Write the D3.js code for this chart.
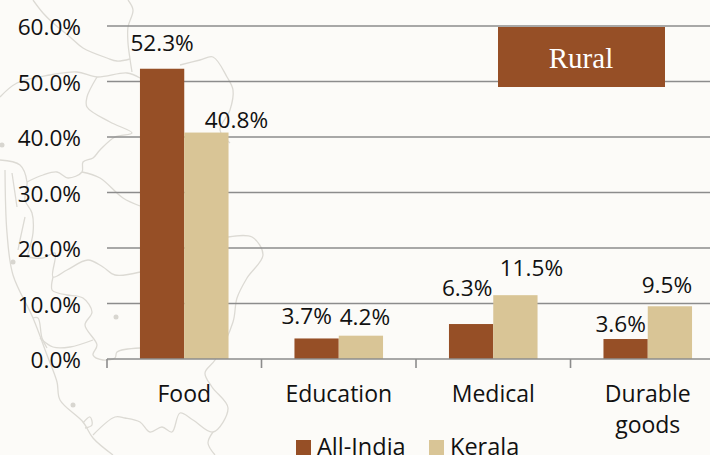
<!DOCTYPE html>
<html>

<head>
    <title>Rural</title>
    <meta charset="UTF-8" />
    <script src="https://d3js.org/d3.v7.min.js"></script>
    <style>
        html, body {
            margin: 0;
            padding: 0;
            background: #fcfbf8;
            overflow: hidden;
        }

        text {
            font-family: "Open Sans", "DejaVu Sans", sans-serif;
            fill: #111;
        }
    </style>
</head>

<body>
    <svg id="chart"></svg>

    <script>
        const categories = ["Food", "Education", "Medical", "Durable goods"];
        const seriesNames = ["All-India", "Kerala"];
        const allIndia = [52.3, 3.7, 6.3, 3.6];
        const kerala = [40.8, 4.2, 11.5, 9.5];
        const yTicks = [0, 10, 20, 30, 40, 50, 60];

        const colors = ["#964f26", "#d9c596"];

        // the labels are not centred over the bars in the original, hand placed
        const labelNudge = [
            [[0, 18], [30, 5]],
            [[-10, 14], [4, 11]],
            [[-4, 28], [16, 19]],
            [[-5, 7], [-3, 13]]
        ];

        // faded map behind the chart, just decoration
        const mapOutlines = [
            [[33, 0], [43, 13], [53, 23], [70, 37], [83, 48], [107, 58], [117, 61], [130, 59]],
            [[128, 0], [133, 10], [128, 27], [128, 43], [130, 59], [132, 72]],
            [[0, 97], [17, 83], [50, 75], [77, 72], [97, 77], [127, 73], [140, 78]],
            [[97, 77], [87, 97], [87, 107], [110, 122], [132, 133], [115, 137], [100, 150], [93, 158], [83, 162], [82, 172], [68, 178], [57, 172], [43, 175], [27, 182]],
            [[82, 172], [100, 178], [123, 198], [140, 206]],
            [[0, 160], [20, 165], [27, 182], [25, 200], [32, 213], [33, 233], [27, 257]],
            [[25, 217], [20, 240], [18, 250]],
            [[12, 173], [17, 207]],
            [[5, 170], [7, 233], [13, 275], [33, 318], [47, 355], [57, 382], [60, 400], [83, 422], [93, 438], [113, 455]],
            [[33, 318], [38, 318], [42, 338], [47, 348]],
            [[27, 257], [43, 258], [55, 253], [53, 277], [67, 270], [88, 260], [103, 267], [115, 275], [140, 272]],
            [[53, 277], [52, 290], [58, 293], [67, 295], [83, 298], [92, 312], [85, 325], [97, 345], [93, 355], [103, 360], [115, 358], [117, 352], [140, 348]],
            [[40, 338], [53, 347], [70, 347], [93, 340]],
            [[83, 423], [90, 417], [92, 425], [85, 428]],
            [[93, 435], [115, 417], [125, 418], [140, 422], [150, 432], [162, 427], [172, 432], [180, 413], [193, 420], [213, 432], [228, 408], [212, 387], [205, 373], [215, 360], [233, 322], [237, 298], [247, 278], [263, 255], [252, 237], [228, 237]],
            [[213, 432], [208, 443], [215, 455]],
            [[180, 65], [200, 60], [213, 57], [227, 77], [233, 90], [230, 110], [220, 130], [230, 143]]
        ];
        const mapDots = [[13, 262], [116, 317], [73, 405], [2, 145]];

        const width = 710,
            height = 455;

        const svg = d3.select("#chart")
            .attr("width", width)
            .attr("height", height)
            .style("display", "block");

        const x = d3.scaleBand()
            .domain(categories)
            .range([107, 725])
            .paddingInner(0.4267)
            .paddingOuter(0.2133);

        const xSeries = d3.scaleBand()
            .domain(seriesNames)
            .range([0, x.bandwidth()]);

        const y = d3.scaleLinear()
            .domain([0, 60])
            .range([359, 26]);

        // background map
        const mapLine = d3.line().curve(d3.curveCatmullRom);

        svg.append("g")
            .selectAll("path")
            .data(mapOutlines)
            .join("path")
            .attr("d", mapLine)
            .attr("fill", "none")
            .attr("stroke", "#dcdad4")
            .attr("stroke-width", 1.3);

        svg.append("g")
            .selectAll("circle")
            .data(mapDots)
            .join("circle")
            .attr("cx", d => d[0])
            .attr("cy", d => d[1])
            .attr("r", 2.5)
            .attr("fill", "#d8d6d0");

        // grid
        svg.append("g")
            .selectAll("line")
            .data(yTicks.filter(d => d > 0))
            .join("line")
            .attr("x1", 107)
            .attr("x2", width)
            .attr("y1", d => y(d))
            .attr("y2", d => y(d))
            .attr("stroke", "#8c8c8c")
            .attr("stroke-width", 1.6);

        // y labels
        const yAxis = svg.append("g")
            .attr("transform", "translate(81,0)")
            .call(d3.axisLeft(y).tickValues(yTicks).tickSize(0).tickPadding(0).tickFormat(d => d.toFixed(1) + "%"));
        yAxis.select(".domain").remove();
        yAxis.selectAll("text")
            .style("font-size", "22.6px")
            .attr("dy", "0.38em");

        // bars
        const groups = svg.append("g")
            .selectAll("g")
            .data(categories)
            .join("g")
            .attr("transform", d => "translate(" + x(d) + ",0)");

        const rows = (d, i) => [
            { name: seriesNames[0], value: allIndia[i], nudge: labelNudge[i][0] },
            { name: seriesNames[1], value: kerala[i], nudge: labelNudge[i][1] }
        ];

        groups.selectAll("rect")
            .data(rows)
            .join("rect")
            .attr("x", d => xSeries(d.name))
            .attr("y", d => y(d.value))
            .attr("width", xSeries.bandwidth())
            .attr("height", d => y(0) - y(d.value))
            .attr("fill", (d, i) => colors[i]);

        groups.selectAll("text")
            .data(rows)
            .join("text")
            .attr("x", d => xSeries(d.name) + xSeries.bandwidth() / 2 + d.nudge[0])
            .attr("y", d => y(d.value) - d.nudge[1])
            .attr("text-anchor", "middle")
            .style("font-size", "22.6px")
            .text(d => d.value.toFixed(1) + "%");

        // x axis
        svg.append("line")
            .attr("x1", 107)
            .attr("x2", width)
            .attr("y1", y(0))
            .attr("y2", y(0))
            .attr("stroke", "#8c8c8c")
            .attr("stroke-width", 1.6);

        svg.append("g")
            .selectAll("line")
            .data(categories)
            .join("line")
            .attr("x1", d => x(d) - x.step() * x.paddingOuter())
            .attr("x2", d => x(d) - x.step() * x.paddingOuter())
            .attr("y1", y(0))
            .attr("y2", 368)
            .attr("stroke", "#8c8c8c")
            .attr("stroke-width", 1.6);

        // category labels, wrapped on the space when it does not fit
        svg.append("g")
            .selectAll("text")
            .data(categories)
            .join("text")
            .attr("text-anchor", "middle")
            .attr("y", 402)
            .style("font-size", "23px")
            .each(function (d) {
                const cx = x(d) + x.bandwidth() / 2;
                d3.select(this).selectAll("tspan")
                    .data(d === "Durable goods" ? d.split(" ") : [d])
                    .join("tspan")
                    .attr("x", cx)
                    .attr("dy", (t, i) => i ? 31 : 0)
                    .text(t => t);
            });

        // legend
        const legend = svg.append("g")
            .selectAll("g")
            .data(seriesNames)
            .join("g")
            .attr("transform", (d, i) => "translate(" + [296, 429][i] + ",440)");

        legend.append("rect")
            .attr("width", 15)
            .attr("height", 15)
            .attr("fill", (d, i) => colors[i]);

        legend.append("text")
            .attr("x", 21)
            .attr("y", 14.5)
            .style("font-size", "23.5px")
            .text(d => d);

        // Rural box
        svg.append("rect")
            .attr("x", 498)
            .attr("y", 27)
            .attr("width", 167)
            .attr("height", 60)
            .attr("fill", colors[0]);

        svg.append("text")
            .attr("x", 581)
            .attr("y", 68)
            .attr("text-anchor", "middle")
            .style("font-family", "'Liberation Serif', serif")
            .style("font-size", "29px")
            .style("fill", "#fff")
            .text("Rural");
    </script>
</body>

</html>
